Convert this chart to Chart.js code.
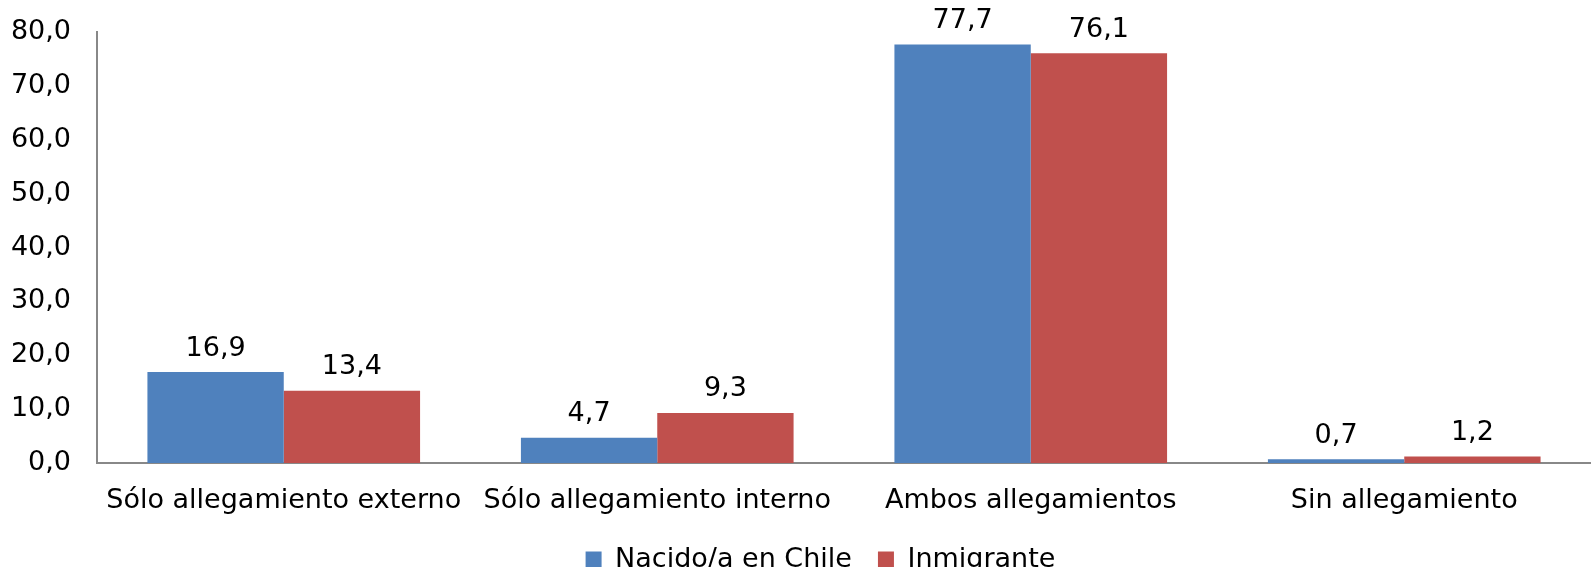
<!DOCTYPE html>
<html>
<head>
<meta charset="utf-8">
<script src="https://cdn.jsdelivr.net/npm/chart.js@4/dist/chart.umd.min.js"></script>
<style>
  html, body { margin: 0; padding: 0; background: #fff; overflow: hidden; }
  #wrap { width: 1591px; height: 593px; position: relative; margin-top: -10px; }
</style>
</head>
<body>
<div id="wrap"><canvas id="chart"></canvas></div>
<script>
// Datos del gráfico
const categorias = ['Sólo allegamiento externo', 'Sólo allegamiento interno', 'Ambos allegamientos', 'Sin allegamiento'];
const nacidoChile = [16.9, 4.7, 77.7, 0.7];
const inmigrante = [13.4, 9.3, 76.1, 1.2];
const yMin = 0, yMax = 80, yPaso = 10;

const FONT = 'DejaVu Sans, Verdana, sans-serif';
const TAM = 27;
const fmt = v => v.toFixed(1).replace('.', ',');

// Etiquetas de valor encima de cada barra
const etiquetasBarras = {
    id: 'etiquetasBarras',
    afterDatasetsDraw(chart) {
        const ctx = chart.ctx;
        ctx.save();
        ctx.font = TAM + 'px ' + FONT;
        ctx.fillStyle = '#000';
        ctx.textAlign = 'center';
        ctx.textBaseline = 'bottom';
        chart.data.datasets.forEach((ds, i) => {
            chart.getDatasetMeta(i).data.forEach((bar, j) => {
                ctx.fillText(fmt(ds.data[j]), bar.x, bar.y - 10);
            });
        });
        ctx.restore();
    }
};

// La leyenda del original está algo a la derecha del centro
const moverLeyenda = {
    id: 'moverLeyenda',
    afterLayout(chart) {
        chart.legend.left += 25;
        chart.legend.right += 25;
    }
};

new Chart(document.getElementById('chart').getContext('2d'), {
    type: 'bar',
    data: {
        labels: categorias,
        datasets: [
            { label: 'Nacido/a en Chile', data: nacidoChile, backgroundColor: '#4F81BD' },
            { label: 'Inmigrante', data: inmigrante, backgroundColor: '#C0504D' }
        ]
    },
    options: {
        responsive: true,
        maintainAspectRatio: false,
        animation: false,
        layout: { padding: { top: 6, right: 0, left: 0, bottom: 0 } },
        datasets: { bar: { barPercentage: 1, categoryPercentage: 0.73 } },
        plugins: {
            tooltip: { enabled: false },
            legend: {
                position: 'bottom',
                labels: {
                    font: { family: FONT, size: TAM },
                    color: '#000',
                    boxWidth: 16,
                    boxHeight: 16,
                    padding: 26
                }
            }
        },
        scales: {
            x: {
                grid: { display: false, drawTicks: false },
                border: { color: '#888', width: 2 },
                ticks: { font: { family: FONT, size: TAM }, color: '#000', padding: 22, maxRotation: 0 },
                afterFit(s) { s.height = 57; }
            },
            y: {
                min: yMin,
                max: yMax,
                grid: { display: false, drawTicks: false },
                border: { color: '#888', width: 2 },
                ticks: {
                    stepSize: yPaso,
                    font: { family: FONT, size: TAM },
                    color: '#000',
                    padding: 26,
                    callback: v => fmt(v)
                },
                afterFit(s) { s.width = 97; }
            }
        }
    },
    plugins: [etiquetasBarras, moverLeyenda]
});
</script>
</body>
</html>
